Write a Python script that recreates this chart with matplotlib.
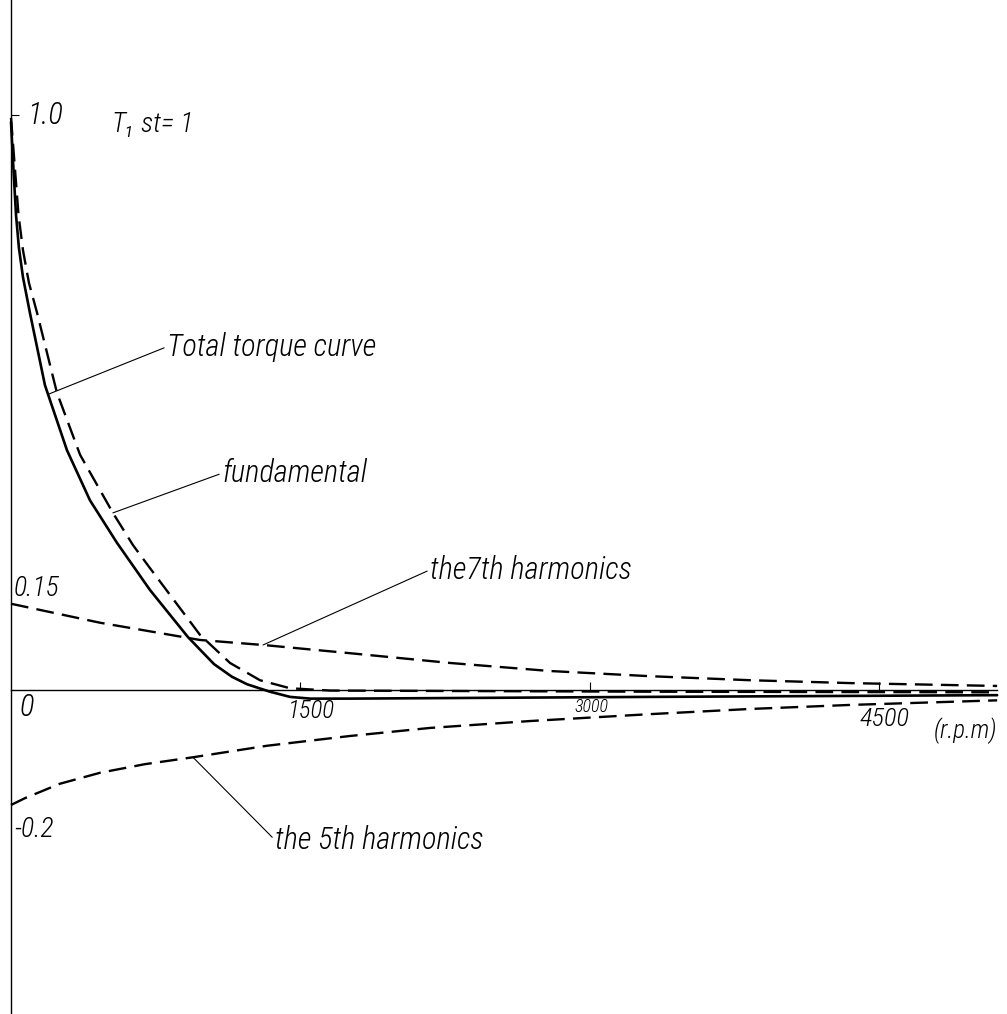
import numpy as np
import matplotlib.pyplot as plt

plt.rcParams['font.family'] = ['Liberation Sans Narrow', 'Roboto Condensed', 'Liberation Sans', 'DejaVu Sans']

# speed (r.p.m) and torque (per unit of starting torque)
rpm_total = [0, 13, 26, 41, 62, 98, 176, 290, 409, 549, 720, 917, 1052, 1145, 1223, 1342, 1446, 1549, 1756, 3311, 5110]
torque_total = [0.988, 0.904, 0.826, 0.769, 0.718, 0.656, 0.530, 0.417, 0.330, 0.256, 0.174, 0.092, 0.045,
                0.023, 0.010, -0.003, -0.012, -0.015, -0.015, -0.012, -0.009]

rpm_fund = [0, 21, 39, 62, 93, 135, 238, 358, 528, 632, 720, 979, 1135, 1290, 1446, 1653, 3311, 5110]
torque_fund = [0.995, 0.904, 0.826, 0.765, 0.708, 0.656, 0.517, 0.409, 0.308, 0.252, 0.212, 0.096, 0.047,
               0.017, 0.003, -0.001, -0.003, -0.004]

rpm_7th = [0, 461, 979, 1316, 1756, 2275, 2793, 3311, 3829, 4347, 5110]
torque_7th = [0.150, 0.117, 0.087, 0.078, 0.064, 0.047, 0.033, 0.024, 0.017, 0.012, 0.007]

rpm_5th = [0, 73, 254, 461, 694, 943, 1326, 1756, 2171, 2689, 3311, 3829, 4347, 5110]
torque_5th = [-0.200, -0.188, -0.163, -0.144, -0.129, -0.117, -0.097, -0.080, -0.066, -0.054, -0.042,
              -0.033, -0.026, -0.018]

xticks = [1500, 3000, 4500]
xtick_labels = ['1500', '3000', '4500']

fig = plt.figure(figsize=(10.07, 10.14), dpi=100)
ax = fig.add_axes([0, 0, 1, 1])
ax.set_xlim(-57, 5161)
ax.set_ylim(-0.5635, 1.2)

dash = (7.5, 3.5)
ax.plot(rpm_total, torque_total, color='black', lw=1.9, solid_capstyle='round', solid_joinstyle='round')
ax.plot(rpm_fund, torque_fund, color='black', lw=1.7, dashes=dash)
ax.plot(rpm_7th, torque_7th, color='black', lw=1.7, dashes=dash)
ax.plot(rpm_5th, torque_5th, color='black', lw=1.7, dashes=dash)

# axes through the origin
for s in ['top', 'right']:
    ax.spines[s].set_visible(False)
ax.spines['left'].set_position(('data', 0))
ax.spines['bottom'].set_position(('data', 0))
ax.spines['bottom'].set_bounds(0, rpm_total[-1])
ax.spines['left'].set_linewidth(1.0)
ax.spines['bottom'].set_linewidth(1.0)
ax.set_xticks(xticks)
ax.set_yticks([1.0])
ax.tick_params(direction='in', length=6, width=0.8, labelbottom=False, labelleft=False)

tfont = dict(style='italic', weight='light', color='black')
ax.text(85, 1.0, '1.0', fontsize=22, va='center', ha='left', **tfont)
ax.text(523, 0.983, 'T₁ st= 1', fontsize=20, va='center', ha='left', **tfont)
ax.text(16, 0.176, '0.15', fontsize=20, va='center', ha='left', **tfont)
ax.text(83, -0.030, '0', fontsize=22, va='center', ha='center', **tfont)
ax.text(16, -0.243, '-0.2', fontsize=20, va='center', ha='left', **tfont)
for x, lab, dx, y, fs in zip(xticks, xtick_labels, [54, 10, 29], [-0.037, -0.030, -0.050], [18, 13, 19]):
    ax.text(x + dx, y, lab, fontsize=fs, va='center', ha='center', **tfont)
ax.text(rpm_total[-1], -0.070, '(r.p.m)', fontsize=18, va='center', ha='right', **tfont)

def leader(label, xs, ys, tip_rpm, text_rpm, text_val):
    tip = (tip_rpm, np.interp(tip_rpm, xs, ys))
    ax.annotate(label, xy=tip, xytext=(text_rpm, text_val), fontsize=22,
                va='center', ha='left', style='italic', weight='light',
                arrowprops=dict(arrowstyle='-', lw=0.8, color='black',
                                shrinkA=0, shrinkB=0, relpos=(0, 0.5)))

leader('Total torque curve', rpm_total, torque_total, 192, 808, 0.597)
leader('fundamental', rpm_fund, torque_fund, 528, 1093, 0.377)
leader('the7th harmonics', rpm_7th, torque_7th, 1306, 2171, 0.209)
leader('the 5th harmonics', rpm_5th, torque_5th, 943, 1368, -0.261)

fig.savefig('out.png', dpi=100, facecolor='white')
